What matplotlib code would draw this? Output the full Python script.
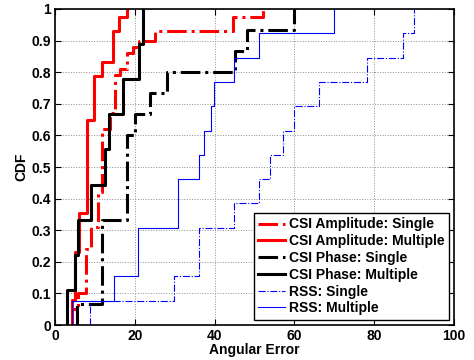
#!/usr/bin/env python3
"""CDF of angular error for CSI amplitude / phase and RSS, single vs multiple."""
from matplotlib import pyplot as plt

# step locations (angular error) and CDF level reached at each step
amp_single_x = [4.3, 5.8, 7.8, 8.9, 10.9, 11.9, 13.8, 15.0, 16.3, 18.0, 19.6, 21.1, 25.1, 44.6, 52.0]
amp_single_y = [0.05, 0.10, 0.24, 0.31, 0.42, 0.62, 0.67, 0.79, 0.81, 0.86, 0.88, 0.90, 0.93, 0.976, 1.0]

amp_multi_x = [4.2, 5.0, 6.0, 7.9, 9.8, 11.9, 14.6, 16.1, 18.0]
amp_multi_y = [0.08, 0.23, 0.354, 0.649, 0.789, 0.831, 0.930, 0.976, 1.0]

phase_single_x = [5.6, 11.7, 18.0, 20.0, 23.8, 28.0, 45.1, 48.0, 59.9]
phase_single_y = [0.067, 0.333, 0.60, 0.667, 0.733, 0.80, 0.867, 0.933, 1.0]

phase_multi_x = [2.9, 5.0, 5.8, 9.0, 12.5, 13.5, 17.0, 21.1, 22.0]
phase_multi_y = [0.111, 0.222, 0.333, 0.444, 0.556, 0.667, 0.778, 0.889, 1.0]

rss_single_x = [8.8, 29.9, 36.1, 44.9, 51.0, 53.9, 57.1, 59.9, 66.2, 78.1, 87.1, 90.0]
rss_single_y = [0.077, 0.154, 0.308, 0.385, 0.462, 0.538, 0.615, 0.692, 0.769, 0.846, 0.923, 1.0]

rss_multi_x = [4.2, 14.9, 20.9, 30.9, 36.0, 37.4, 39.0, 39.9, 44.9, 51.0, 69.9]
rss_multi_y = [0.077, 0.154, 0.308, 0.462, 0.538, 0.615, 0.692, 0.769, 0.846, 0.923, 1.0]

x_ticks = [0, 20, 40, 60, 80, 100]
y_ticks = [0, 0.1, 0.2, 0.3, 0.4, 0.5, 0.6, 0.7, 0.8, 0.9, 1]
y_tick_labels = ['0', '0.1', '0.2', '0.3', '0.4', '0.5', '0.6', '0.7', '0.8', '0.9', '1']

plt.rcParams['font.family'] = ['Liberation Sans', 'DejaVu Sans']
plt.rcParams['font.weight'] = 'bold'
plt.rcParams['font.size'] = 10


def cdf_step(ax, xs, ys, **kw):
    # start at zero on the first sample, then step up
    ax.step([xs[0]] + xs, [0] + ys, where='post', **kw)


fig = plt.figure(figsize=(4.74, 3.6), dpi=100)
ax = fig.add_axes((0.116, 0.097, 0.842, 0.878))

cdf_step(ax, amp_single_x, amp_single_y, color='red', ls='-.', lw=2.2, label='CSI Amplitude: Single')
cdf_step(ax, amp_multi_x, amp_multi_y, color='red', ls='-', lw=2.2, label='CSI Amplitude: Multiple')
cdf_step(ax, phase_single_x, phase_single_y, color='black', ls='-.', lw=2.2, label='CSI Phase: Single')
cdf_step(ax, phase_multi_x, phase_multi_y, color='black', ls='-', lw=2.2, label='CSI Phase: Multiple')
cdf_step(ax, rss_single_x, rss_single_y, color='blue', ls='-.', lw=0.8, label='RSS: Single')
cdf_step(ax, rss_multi_x, rss_multi_y, color='blue', ls='-', lw=0.8, label='RSS: Multiple')

ax.set_xlim(0, 100)
ax.set_ylim(0, 1)
ax.set_xticks(x_ticks)
ax.set_yticks(y_ticks)
ax.set_yticklabels(y_tick_labels)
ax.tick_params(direction='in', top=True, right=True, length=4, width=0.8, pad=3)
ax.grid(True, ls=':', color='#909090', lw=0.7)
for s in ax.spines.values():
    s.set_linewidth(1.2)

ax.set_xlabel('Angular Error', fontweight='bold', labelpad=0)
ax.set_ylabel('CDF', fontweight='bold', labelpad=2)

leg = ax.legend(loc='lower right', fancybox=False, framealpha=1, edgecolor='black',
                handlelength=1.9, handletextpad=0.3, labelspacing=0.2,
                borderpad=0.3, borderaxespad=0.4)
leg.get_frame().set_linewidth(1.0)

fig.savefig('out.png', dpi=100)
